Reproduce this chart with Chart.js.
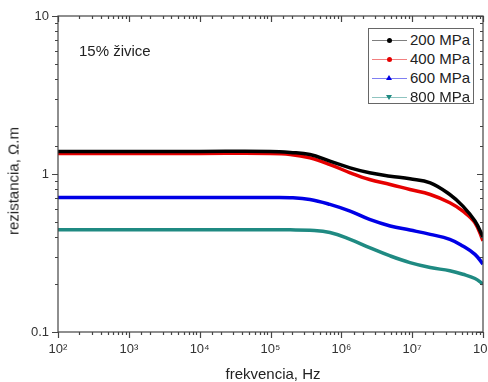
<!DOCTYPE html>
<html>
<head>
<meta charset="utf-8">
<script src="https://cdn.jsdelivr.net/npm/chart.js@4/dist/chart.umd.min.js"></script>
<style>
    body { margin: 0; background: #fff; font-family: "Liberation Sans", Arial, sans-serif; }
    #wrap { position: relative; width: 488px; height: 382px; overflow: hidden; }
    .note { position: absolute; left: 79px; top: 42px; font-size: 15px; color: #222; }
    .ytitle { position: absolute; left: 13px; top: 181px; font-size: 15px; color: #222;
        transform: translate(-50%, -50%) rotate(-90deg); white-space: nowrap; }
    .xtitle { position: absolute; left: 273px; top: 373px; font-size: 15px; color: #222;
        transform: translate(-50%, -50%); white-space: nowrap; }
    #legend { position: absolute; left: 368px; top: 28px; width: 106px; height: 76px;
        border: 1px solid #666; background: #fff; box-sizing: border-box; }
    .row { position: absolute; left: 0; height: 18px; width: 100%; }
    .row .ln { position: absolute; left: 3px; top: 9px; width: 35px; height: 1px; }
    .row .mk { position: absolute; }
    .row span { position: absolute; left: 41px; top: 0; line-height: 18px; font-size: 15px; color: #222; }
</style>
</head>
<body>
<div id="wrap">
    <canvas id="chart"></canvas>
    <div class="note">15% živice</div>
    <div class="ytitle">rezistancia, Ω.m</div>
    <div class="xtitle">frekvencia, Hz</div>
    <div id="legend"></div>
</div>
<script>
// frequency points (Hz)
const freqHz = [1e2, 1e3, 1e4, 1e5, 1.9e5, 3.6e5, 6.9e5, 1.33e6, 2.5e6, 4.9e6, 9.3e6, 1.8e7, 3.4e7, 5.2e7, 7.7e7, 1e8];

const seriesNames = ['200 MPa', '400 MPa', '600 MPa', '800 MPa'];
const res200 = [1.39, 1.39, 1.39, 1.39, 1.37, 1.33, 1.205, 1.094, 1.018, 0.969, 0.933, 0.88, 0.742, 0.626, 0.504, 0.40];
const res400 = [1.35, 1.35, 1.35, 1.35, 1.33, 1.265, 1.148, 1.018, 0.923, 0.859, 0.798, 0.742, 0.658, 0.582, 0.492, 0.378];
const res600 = [0.71, 0.71, 0.71, 0.71, 0.708, 0.69, 0.642, 0.582, 0.516, 0.469, 0.442, 0.415, 0.386, 0.35, 0.31, 0.269];
const res800 = [0.443, 0.443, 0.443, 0.443, 0.443, 0.44, 0.426, 0.386, 0.342, 0.303, 0.275, 0.256, 0.244, 0.232, 0.218, 0.201];

const colors = ['#000000', '#e60000', '#0000e6', '#1f8a82'];
const markers = ['circle', 'circle', 'triUp', 'triDown'];
const allSeries = [res200, res400, res600, res800];

const sup = { 2: '²', 3: '³', 4: '⁴', 5: '⁵', 6: '⁶', 7: '⁷', 8: '⁸' };

function isDecade(v) {
    const l = Math.log10(v);
    return Math.abs(l - Math.round(l)) < 1e-6;
}

// tick marks: outward on bottom/left, inward on top/right, plus frame
const frameTicks = {
    id: 'frameTicks',
    afterDraw(chart) {
        const ctx = chart.ctx;
        const a = chart.chartArea;
        const xs = chart.scales.x;
        const ys = chart.scales.y;
        ctx.save();
        ctx.strokeStyle = '#444';
        ctx.lineWidth = 1.2;
        ctx.strokeRect(a.left, a.top, a.right - a.left, a.bottom - a.top);
        ctx.beginPath();
        xs.ticks.forEach(function (t) {
            const px = Math.round(xs.getPixelForValue(t.value)) + 0.5;
            const len = isDecade(t.value) ? 6 : 3;
            ctx.moveTo(px, a.bottom); ctx.lineTo(px, a.bottom + len);
            ctx.moveTo(px, a.top); ctx.lineTo(px, a.top + len);
        });
        ys.ticks.forEach(function (t) {
            const py = Math.round(ys.getPixelForValue(t.value)) + 0.5;
            const len = isDecade(t.value) ? 6 : 3;
            ctx.moveTo(a.left, py); ctx.lineTo(a.left - len, py);
            ctx.moveTo(a.right, py); ctx.lineTo(a.right - len, py);
        });
        ctx.stroke();
        ctx.restore();
    }
};

const datasets = allSeries.map(function (vals, i) {
    return {
        label: seriesNames[i],
        data: vals.map((v, j) => ({ x: freqHz[j], y: v })),
        borderColor: colors[i],
        backgroundColor: colors[i],
        borderWidth: 3.5,
        pointRadius: 0,
        tension: 0.4,
        fill: false
    };
});

const ctx = document.getElementById('chart').getContext('2d');
new Chart(ctx, {
    type: 'line',
    data: { datasets: datasets },
    options: {
        responsive: true,
        maintainAspectRatio: false,
        animation: false,
        layout: { padding: { left: 0, top: 16, right: 5, bottom: 0 } },
        plugins: { legend: { display: false }, tooltip: { enabled: false } },
        scales: {
            x: {
                type: 'logarithmic',
                min: 1e2,
                max: 1e8,
                grid: { display: false, drawTicks: false },
                border: { display: false },
                afterFit: function (scale) {
                    scale.height = 50;
                    scale.paddingLeft = 0;
                    scale.paddingRight = 0;
                },
                ticks: {
                    autoSkip: false,
                    maxRotation: 0,
                    padding: 10,
                    color: '#333',
                    font: { family: 'Liberation Sans', size: 13 },
                    callback: function (value) {
                        if (!isDecade(value)) return '';
                        return '10' + sup[Math.round(Math.log10(value))];
                    }
                }
            },
            y: {
                type: 'logarithmic',
                min: 0.1,
                max: 10,
                grid: { display: false, drawTicks: false },
                border: { display: false },
                afterFit: function (scale) {
                    scale.width = 58;
                    scale.paddingTop = 0;
                    scale.paddingBottom = 0;
                },
                ticks: {
                    autoSkip: false,
                    padding: 9,
                    color: '#333',
                    font: { family: 'Liberation Sans', size: 13 },
                    callback: function (value) {
                        if (!isDecade(value)) return '';
                        return value < 1 ? '0.1' : String(Math.round(value));
                    }
                }
            }
        }
    },
    plugins: [frameTicks]
});

// legend box
const legend = document.getElementById('legend');
seriesNames.forEach(function (name, i) {
    const row = document.createElement('div');
    row.className = 'row';
    row.style.top = (2 + i * 19.1) + 'px';
    const ln = document.createElement('div');
    ln.className = 'ln';
    ln.style.background = colors[i];
    ln.style.opacity = '0.5';
    row.appendChild(ln);
    const mk = document.createElement('div');
    mk.className = 'mk';
    if (markers[i] === 'circle') {
        mk.style.cssText = 'left:18px;top:7px;width:5px;height:5px;border-radius:50%;background:' + colors[i];
    } else if (markers[i] === 'triUp') {
        mk.style.cssText = 'left:17px;top:6px;width:0;height:0;border-left:3px solid transparent;border-right:3px solid transparent;border-bottom:5px solid ' + colors[i];
    } else {
        mk.style.cssText = 'left:17px;top:7px;width:0;height:0;border-left:3px solid transparent;border-right:3px solid transparent;border-top:5px solid ' + colors[i];
    }
    row.appendChild(mk);
    const sp = document.createElement('span');
    sp.textContent = name;
    row.appendChild(sp);
    legend.appendChild(row);
});
</script>
</body>
</html>
